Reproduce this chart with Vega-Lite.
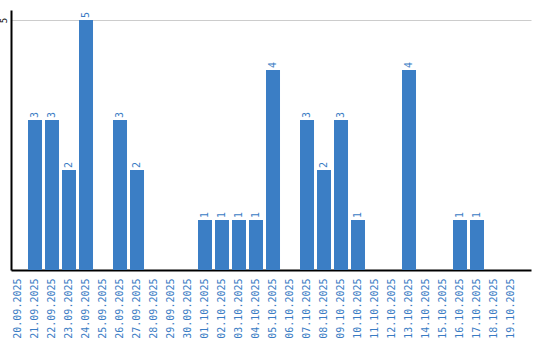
{
  "$schema": "https://vega.github.io/schema/vega-lite/v6.json",
  "width": 520,
  "height": 260,
  "autosize": {"type": "none"},
  "padding": {"left": 11, "top": 10, "right": 9, "bottom": 70},
  "background": "white",
  "data": {"values": [
    {"date": "20.09.2025", "count": 0},
    {"date": "21.09.2025", "count": 3},
    {"date": "22.09.2025", "count": 3},
    {"date": "23.09.2025", "count": 2},
    {"date": "24.09.2025", "count": 5},
    {"date": "25.09.2025", "count": 0},
    {"date": "26.09.2025", "count": 3},
    {"date": "27.09.2025", "count": 2},
    {"date": "28.09.2025", "count": 0},
    {"date": "29.09.2025", "count": 0},
    {"date": "30.09.2025", "count": 0},
    {"date": "01.10.2025", "count": 1},
    {"date": "02.10.2025", "count": 1},
    {"date": "03.10.2025", "count": 1},
    {"date": "04.10.2025", "count": 1},
    {"date": "05.10.2025", "count": 4},
    {"date": "06.10.2025", "count": 0},
    {"date": "07.10.2025", "count": 3},
    {"date": "08.10.2025", "count": 2},
    {"date": "09.10.2025", "count": 3},
    {"date": "10.10.2025", "count": 1},
    {"date": "11.10.2025", "count": 0},
    {"date": "12.10.2025", "count": 0},
    {"date": "13.10.2025", "count": 4},
    {"date": "14.10.2025", "count": 0},
    {"date": "15.10.2025", "count": 0},
    {"date": "16.10.2025", "count": 1},
    {"date": "17.10.2025", "count": 1},
    {"date": "18.10.2025", "count": 0},
    {"date": "19.10.2025", "count": 0}
  ]},
  "config": {"view": {"stroke": null}},
  "encoding": {
    "x": {
      "field": "date", "type": "ordinal", "sort": null,
      "scale": {"paddingInner": 0.176, "paddingOuter": 0.382, "align": 0},
      "axis": {
        "title": null, "labelAngle": -90, "labelAlign": "right", "labelBaseline": "middle",
        "labelColor": "#3a7cc4", "labelFont": "DejaVu Sans Mono", "labelFontSize": 10,
        "labelPadding": 8, "ticks": false, "domainColor": "#000000", "domainWidth": 2,
        "grid": false
      }
    },
    "y": {
      "field": "count", "type": "quantitative",
      "scale": {"domain": [0, 5.2], "nice": false},
      "axis": {
        "title": null, "values": [5], "labelAngle": -90, "labelAlign": "center",
        "labelBaseline": "bottom", "labelPadding": 3, "labelColor": "#000000",
        "labelFont": "DejaVu Sans Mono", "labelFontSize": 9, "ticks": false,
        "domainColor": "#000000", "domainWidth": 2, "grid": true, "gridColor": "#cccccc"
      }
    }
  },
  "layer": [
    {"mark": {"type": "bar", "color": "#3b7ec5"}},
    {
      "transform": [{"filter": "datum.count > 0"}],
      "mark": {"type": "text", "angle": 270, "align": "left", "baseline": "middle", "dx": 2,
               "font": "DejaVu Sans Mono", "fontSize": 10, "color": "#3a7cc4"},
      "encoding": {"text": {"field": "count", "type": "quantitative"}}
    }
  ]
}
